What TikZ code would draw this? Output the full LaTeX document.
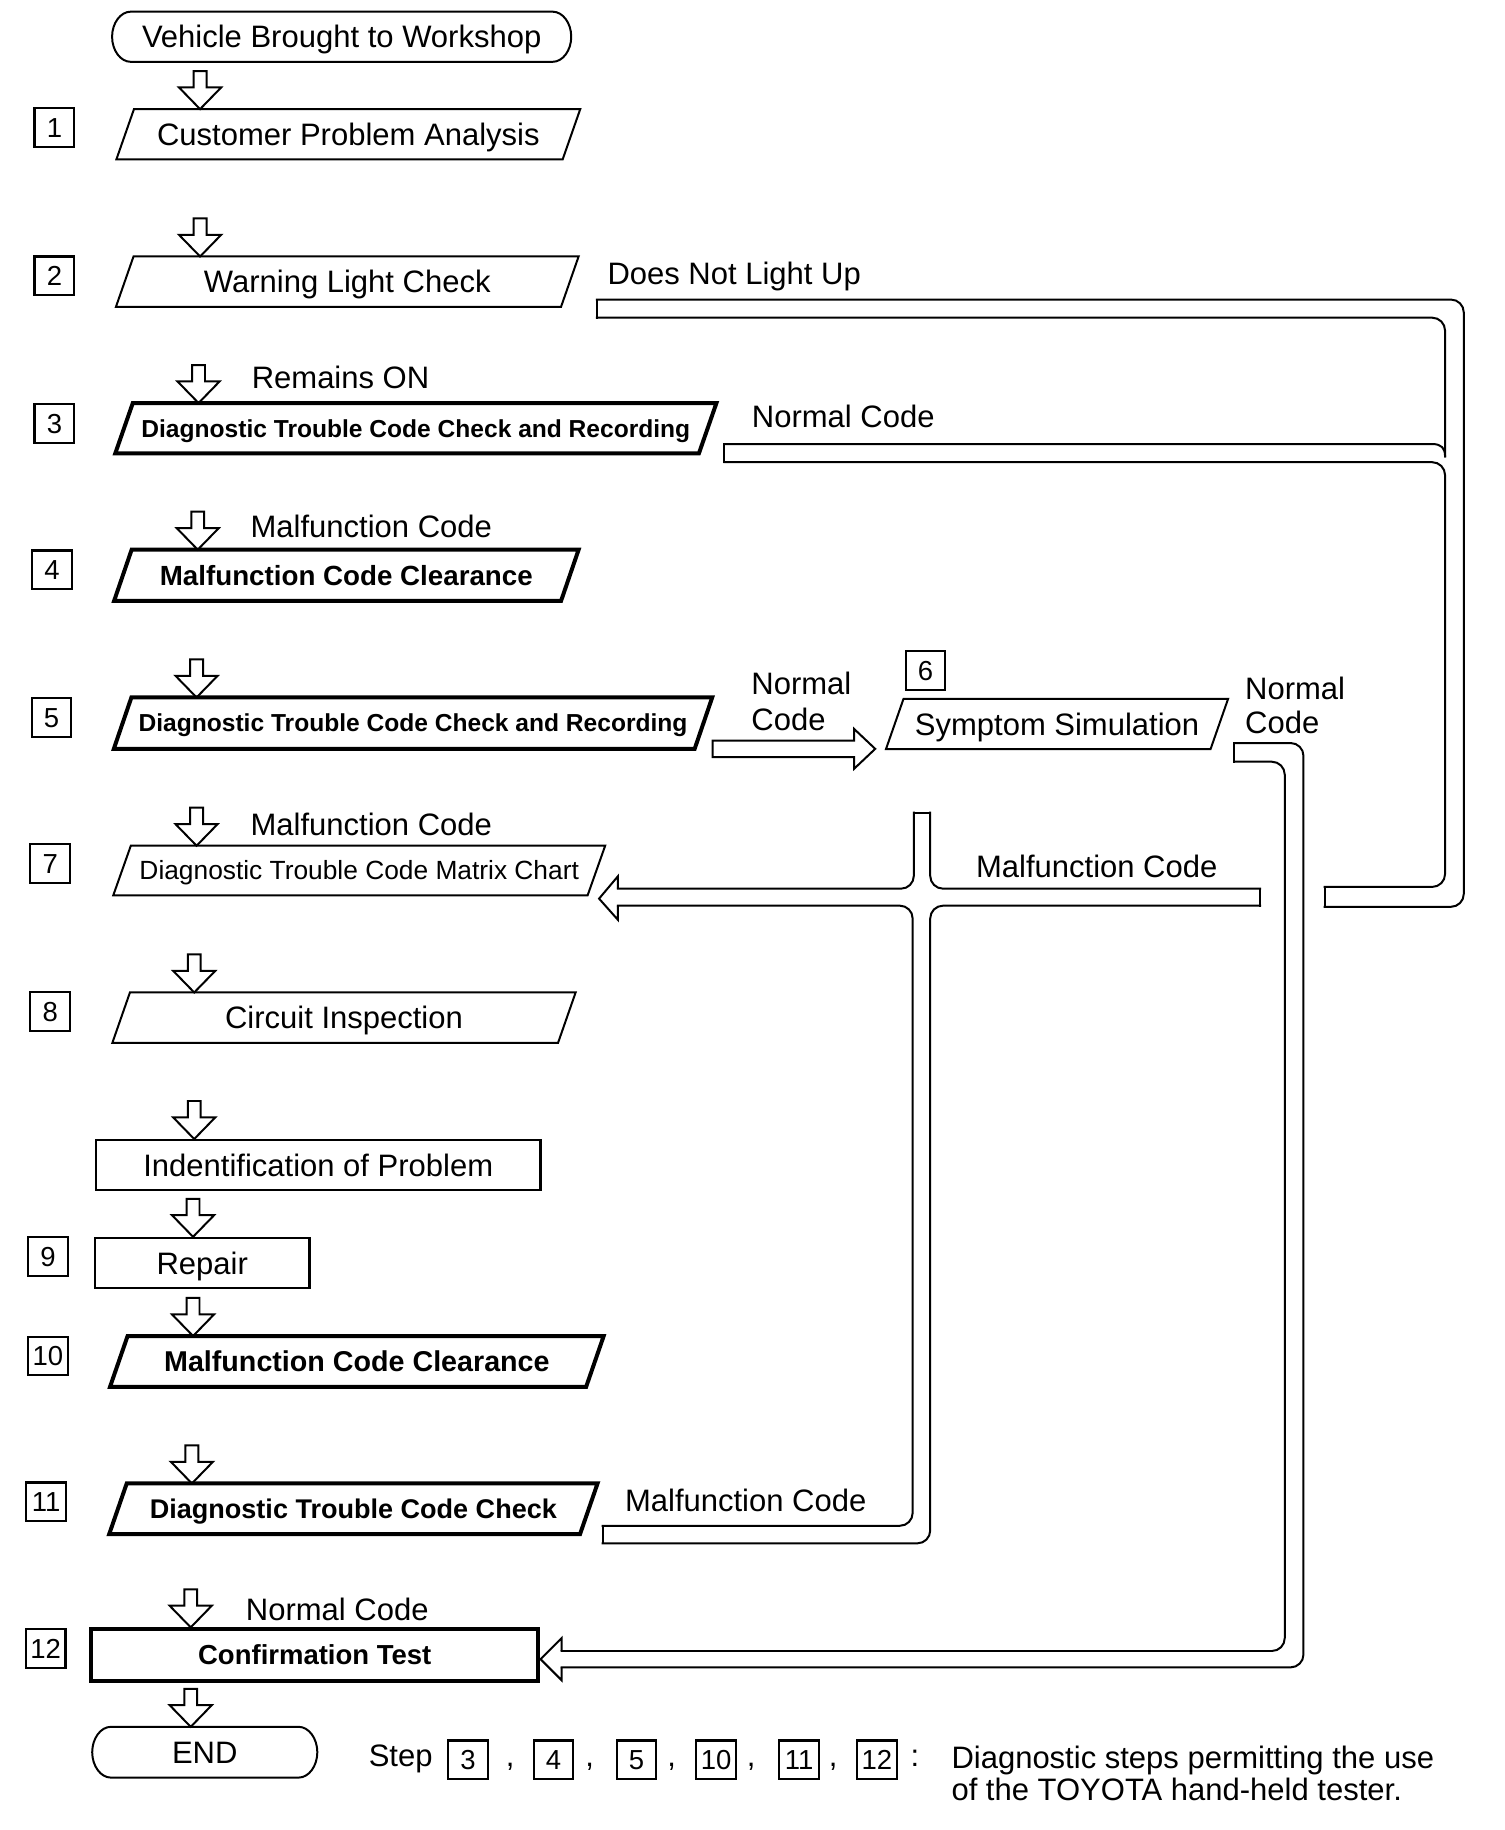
\documentclass[tikz,border=0pt]{standalone}
\usepackage{fontspec}
\setmainfont{Liberation Sans}
\usetikzlibrary{calc}
\newcommand\fsz[1]{\fontsize{#1}{#1}\selectfont}
\newcommand\pgram[2]{\draw[#1] ([xshift=7.5pt]#2.north west) -- ([xshift=7.5pt]#2.north east) -- ([xshift=-7.5pt]#2.south east) -- ([xshift=-7.5pt]#2.south west) -- cycle;}
\newcommand\hdown[2]{\draw[thinln] (#1,0 |- #2.north) -- ++(-18,-18.5) -- ++(12.5,0) -- ++(0,-14) -- ++(11,0) -- ++(0,14) -- ++(12.5,0) -- cycle;}
\newcommand\stadium[1]{\draw[thinln]
  ([xshift=16pt]#1.north west) -- ([xshift=-16pt]#1.north east)
  .. controls ([xshift=-7.2pt]#1.north east) and ([yshift=11.7pt]#1.east) .. (#1.east)
  .. controls ([yshift=-11.7pt]#1.east) and ([xshift=-7.2pt]#1.south east) .. ([xshift=-16pt]#1.south east)
  -- ([xshift=16pt]#1.south west)
  .. controls ([xshift=7.2pt]#1.south west) and ([yshift=-11.7pt]#1.west) .. (#1.west)
  .. controls ([yshift=11.7pt]#1.west) and ([xshift=7.2pt]#1.north west) .. ([xshift=16pt]#1.north west) -- cycle;}
\tikzset{
 thinln/.style={line width=1.7pt, line join=miter},
 thickln/.style={line width=3.4pt, line join=miter},
 pipe/.style={line width=1.7pt, rounded corners=11pt, line cap=rect},
 capln/.style={line width=1.7pt, line cap=rect},
 rt/.style={inner sep=0pt, text height=19pt, text depth=0pt, font=\fsz{26.5}},
 lab/.style={rt, anchor=west},
 bt/.style={inner sep=0pt, text depth=0pt, text height=#1},
 numbox/.style={draw, line width=1.8pt, inner sep=0pt, minimum width=34pt, minimum height=33pt, text height=16.8pt, text depth=0pt, font=\fsz{23.5}},
}
\begin{document}
\begin{tikzpicture}[x=1pt,y=-1pt]
\useasboundingbox (0,0) rectangle (1285.5,1564);

% ---------- main boxes ----------
\node[rt, minimum width=392pt, minimum height=42.5pt] (start) at (292,31.4) {Vehicle Brought to Workshop};
\stadium{start}

\node[rt, minimum width=381pt, minimum height=42.5pt] (cpa) at (297.7,114.7) {Customer Problem Analysis};
\pgram{thinln}{cpa}
\node[rt, minimum width=380pt, minimum height=42.6pt] (wlc) at (296.8,240.7) {Warning Light Check};
\pgram{thinln}{wlc}
\node[bt=15pt, font=\bfseries\fsz{21}, minimum width=498.4pt, minimum height=42.7pt] (dtc3) at (355.4,366) {Diagnostic Trouble Code Check and Recording};
\pgram{thickln}{dtc3}
\node[bt=17pt, font=\bfseries\fsz{23.7}, minimum width=381.6pt, minimum height=43.4pt] (mcc4) at (296,491.7) {Malfunction Code Clearance};
\pgram{thickln}{mcc4}
\node[bt=15pt, font=\bfseries\fsz{21}, minimum width=496pt, minimum height=43.5pt] (dtc5) at (353,618) {Diagnostic Trouble Code Check and Recording};
\pgram{thickln}{dtc5}
\node[rt, minimum width=277pt, minimum height=42.6pt] (ss) at (903.4,618.7) {Symptom Simulation};
\pgram{thinln}{ss}
\node[bt=16.1pt, font=\fsz{22.5}, minimum width=405pt, minimum height=42pt] (dtcm) at (307,744) {Diagnostic Trouble Code Matrix Chart};
\pgram{thinln}{dtcm}
\node[rt, minimum width=380.5pt, minimum height=42.6pt] (ci) at (294,869.7) {Circuit Inspection};
\pgram{thinln}{ci}
\node[rt, draw, line width=1.9pt, minimum width=380pt, minimum height=42.6pt] (iop) at (272,995.7) {Indentification of Problem};
\node[rt, draw, line width=1.9pt, minimum width=183.5pt, minimum height=43pt] (rep) at (172.8,1079.5) {Repair};
\node[bt=17.5pt, font=\bfseries\fsz{24.5}, minimum width=406.5pt, minimum height=43pt] (mcc10) at (305,1163.5) {Malfunction Code Clearance};
\pgram{thickln}{mcc10}
\node[bt=16.5pt, font=\bfseries\fsz{23.1}, minimum width=402pt, minimum height=43pt] (dtc11) at (302,1289.5) {Diagnostic Trouble Code Check};
\pgram{thickln}{dtc11}
\node[bt=16.8pt, font=\bfseries\fsz{23.5}, draw, line width=3.4pt, minimum width=382pt, minimum height=44pt] (conf) at (269,1414.5) {Confirmation Test};
\node[rt, minimum width=192pt, minimum height=43pt] (endn) at (175,1497.5) {END};
\stadium{endn}

% ---------- step numbers ----------
\node[numbox] (s1) at (46.5,109) {1};
\node[numbox] (s2) at (46.5,235.7) {2};
\node[numbox] (s3) at (46.5,362) {3};
\node[numbox] (s4) at (44.5,487) {4};
\node[numbox] (s5) at (44,613) {5};
\node[numbox] (s6) at (791,573) {6};
\node[numbox] (s7) at (43,738) {7};
\node[numbox] (s8) at (43,864.5) {8};
\node[numbox] (s9) at (41,1074) {9};
\node[numbox] (s10) at (41,1159) {10};
\node[numbox] (s11) at (39.5,1283.5) {11};
\node[numbox] (s12) at (39,1409) {12};

% ---------- down arrows ----------
\hdown{171}{cpa}
\hdown{171}{wlc}
\hdown{169.7}{dtc3}
\hdown{169}{mcc4}
\hdown{168}{dtc5}
\hdown{168}{dtcm}
\hdown{166}{ci}
\hdown{166}{iop}
\hdown{165}{rep}
\hdown{165}{mcc10}
\hdown{164}{dtc11}
\hdown{163}{conf}
\hdown{163}{endn}

% ---------- labels ----------
\node[lab] (lremain) at (215,322.7) {Remains ON};
\node[lab] (ldnlu) at (519,233.6) {Does Not Light Up};
\node[lab] (lnc3) at (642.4,355.7) {Normal Code};
\node[lab] (lmc4) at (214,449.5) {Malfunction Code};
\node[lab] (lnc5a) at (642,584) {Normal};
\node[lab] (lnc5b) at (642,614.7) {Code};
\node[lab] (lnc6a) at (1064,588) {Normal};
\node[lab] (lnc6b) at (1064,617) {Code};
\node[lab] (lmc7) at (214,704.7) {Malfunction Code};
\node[lab] (lmc6) at (834,740.5) {Malfunction Code};
\node[lab] (lmc11) at (534,1282) {Malfunction Code};
\node[lab] (lnc12) at (210,1375.5) {Normal Code};

% ---------- pipe: Does Not Light Up (2) and Normal Code (3) ----------
\coordinate (dnA) at (510,256);
\coordinate (dnB) at (510,271.5);
\coordinate (ncA) at (619,379.5);
\coordinate (ncB) at (619,395);
\coordinate (dnE1) at (1132,758);
\coordinate (dnE2) at (1132,775);
\draw[pipe] (dnA) -- (1251,256) -- (1251,775) -- (dnE2);
\draw[pipe] (dnB) -- (1235,271.5) -- (1235,390);
\draw[capln] (dnA) -- (dnB);
\draw[capln] (ncA) -- (1224,379.5) .. controls (1232,379.5) and (1235,383) .. (1235,390);
\draw[pipe] (ncB) -- (1235,395) -- (1235,758) -- (dnE1);
\draw[capln] (ncA) -- (ncB);
\draw[capln] (dnE1) -- (dnE2);

% ---------- arrow 5 -> 6 ----------
\draw[thinln] (609,633) -- (730,633) -- (730,623) -- (748,640) -- (730,657) -- (730,647) -- (609,647) -- cycle;

% ---------- pipe: Normal Code (6) -> Confirmation Test ----------
\coordinate (snA) at (1055,635);
\coordinate (snB) at (1055,651);
\coordinate (cfT) at (462,1418);
\draw[pipe] (snA) -- (1114,635) -- (1114,1425) -- (480,1425);
\draw[pipe] (snB) -- (1098,651) -- (1098,1411) -- (480,1411);
\draw[capln] (snA) -- (snB);
\draw[thinln] (480,1411) -- (480,1400) -- (cfT) -- (480,1436) -- (480,1425);

% ---------- pipe: Malfunction Code -> Matrix Chart ----------
\coordinate (mcE1) at (1077,759.5);
\coordinate (mcE2) at (1077,774);
\coordinate (mxT) at (512,768);
\coordinate (m11A) at (515,1304);
\coordinate (m11B) at (515,1319);
\draw[thinln] (528,759.5) -- (528,749) -- (mxT) -- (528,786) -- (528,774);
\draw[pipe] (528,759.5) -- (781,759.5) -- (781,694.5);
\draw[capln] (781,694.5) -- (795,694.5);
\draw[pipe] (795,694.5) -- (795,759.5) -- (mcE1);
\draw[capln] (mcE1) -- (mcE2);
\draw[pipe] (528,774) -- (780,774) -- (780,1304) -- (m11A);
\draw[pipe] (mcE2) -- (795,774) -- (795,1319) -- (m11B);
\draw[capln] (m11A) -- (m11B);

% ---------- legend ----------
\node[inner sep=0pt, anchor=base west, font=\fsz{26.5}] (lstep) at (315,1510) {Step};
\node[numbox] (lb3) at (400,1504) {3};
\node[inner sep=0pt, anchor=base, font=\fsz{26.5}] (c1) at (436,1510) {,};
\node[numbox] (lb4) at (473,1504) {4};
\node[inner sep=0pt, anchor=base, font=\fsz{26.5}] (c2) at (504,1510) {,};
\node[numbox] (lb5) at (544,1504) {5};
\node[inner sep=0pt, anchor=base, font=\fsz{26.5}] (c3) at (574,1510) {,};
\node[numbox] (lb10) at (612,1504) {10};
\node[inner sep=0pt, anchor=base, font=\fsz{26.5}] (c4) at (642,1510) {,};
\node[numbox] (lb11) at (683,1504) {11};
\node[inner sep=0pt, anchor=base, font=\fsz{26.5}] (c5) at (712,1510) {,};
\node[numbox] (lb12) at (749.5,1504) {12};
\node[inner sep=0pt, anchor=base, font=\fsz{26.5}] (colon) at (782,1510) {:};
\node[inner sep=0pt, anchor=base west, font=\fsz{26.5}] (leg1) at (813,1511) {Diagnostic steps permitting the use};
\node[inner sep=0pt, anchor=base west, font=\fsz{26.5}] (leg2) at (813,1539) {of the TOYOTA hand-held tester.};
\end{tikzpicture}
\end{document}
